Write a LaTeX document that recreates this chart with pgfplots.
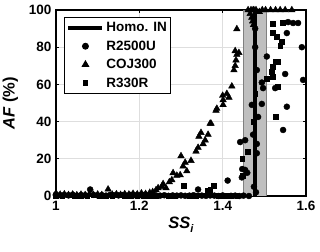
\documentclass[border=0pt]{standalone}
\usepackage{fontspec}
\setmainfont{Liberation Sans}
\usepackage{pgfplots}
\pgfplotsset{compat=1.18}
\pgfplotsset{
  lineleg/.style={legend image code/.code={\draw[##1, line width=4bp] (0bp,0bp) -- (34bp,0bp);}},
  markleg/.style={legend image code/.code={\draw[##1] plot coordinates {(17bp,0bp)};}},
}
\begin{document}
\begin{tikzpicture}
\begin{axis}[
  scale only axis, width=250bp, height=186bp,
  xmin=1, xmax=1.6, ymin=0, ymax=100,
  xtick={1,1.2,1.4,1.6}, xticklabels={1,1.2,1.4,1.6},
  ytick={0,20,40,60,80,100},
  /pgf/number format/assume math mode=true,
  ticklabel style={font=\bfseries\fontsize{13.5bp}{15bp}\selectfont},
  xticklabel style={yshift=-2bp},
  yticklabel style={xshift=-1bp},
  grid=major, major grid style={draw=black!13, line width=0.6bp},
  axis line style={line width=1.1bp},
  tick style={line width=0.8bp, black},
  major tick length=3bp,
  tick align=inside,
  clip mode=individual,
  xlabel={\bfseries\itshape SS\raisebox{-4bp}{\fontsize{11bp}{12bp}\selectfont\bfseries\itshape i}},
  ylabel={\bfseries\itshape AF \upshape (\%)},
  label style={font=\fontsize{16.5bp}{18bp}\selectfont},
  xlabel style={yshift=1bp},
  ylabel style={yshift=4bp},
  legend style={at={(rel axis cs:0.032,0.962)}, anchor=north west,
    font=\bfseries\fontsize{13.5bp}{15bp}\selectfont,
    draw=black, line width=0.9bp, inner ysep=3bp, inner xsep=2bp, row sep=3.5bp,
    cells={anchor=west, inner xsep=3bp}},
  legend cell align=left,
]
\addplot[forget plot, fill=black!25, draw=black!50, line width=0.7bp]
  coordinates {(1.45,0)(1.505,0)(1.505,100)(1.45,100)} -- cycle;
\addplot[black, line width=4bp, lineleg]
  coordinates {(1.478,0)(1.478,100)};
\addlegendentry{Homo. IN}
\addplot[only marks, mark=*, mark size=3bp, black, markleg]
  coordinates {
(1.000,0.8)(1.010,0.4)(1.020,0.6)(1.030,0.3)(1.040,0.7)(1.050,0.2)(1.060,0.5)(1.070,0.4)(1.082,3.5)(1.090,0.6)
(1.100,0.3)(1.110,0.5)(1.120,0.2)(1.130,0.6)(1.140,0.4)(1.150,0.3)(1.160,0.5)(1.170,0.2)(1.180,0.6)(1.190,0.4)
(1.200,0.3)(1.210,0.5)(1.220,0.2)(1.230,0.4)(1.240,0.3)(1.250,0.2)(1.260,0.4)(1.270,0.1)(1.280,0.3)(1.290,0.2)
(1.300,0.3)(1.310,0.1)(1.320,0.2)(1.330,0.4)(1.341,3.5)(1.350,0.2)(1.360,0.1)(1.370,0.3)(1.380,0.2)(1.390,0.0)
(1.400,0.3)(1.412,8.3)(1.420,0.1)(1.430,0.2)(1.440,0.0)(1.450,0.2)(1.463,0.0)
(1.442,29)(1.454,30)(1.447,14.5)(1.454,14)(1.459,12.5)(1.446,10)(1.470,49)(1.485,42.5)(1.473,33)(1.482,23)
(1.482,28)(1.494,49.5)(1.482,67.7)(1.494,61)(1.497,58)(1.506,75)(1.526,58)(1.550,65.6)(1.545,35.5)(1.554,48)
(1.590,80)(1.593,62.4)(1.554,87.6)(1.557,93.5)(1.569,93)(1.581,93)(1.478,80)(1.478,90)(1.475,5)(1.480,2)
  };
\addlegendentry{R2500U}
\addplot[only marks, mark=triangle*, mark size=3.8bp, black, markleg]
  coordinates {
(1.000,1.5)(1.010,0.8)(1.020,1.0)(1.030,0.6)(1.040,0.9)(1.050,0.5)(1.060,0.8)(1.070,0.6)(1.080,1.0)(1.090,0.7)
(1.100,0.9)(1.110,0.6)(1.125,3.6)(1.135,0.8)(1.145,1.0)(1.155,0.7)(1.165,1.1)(1.175,0.9)(1.185,1.3)(1.195,1.0)
(1.205,1.5)(1.215,1.2)(1.225,1.8)(1.232,2.2)
(1.240,3.2)(1.245,4.3)(1.254,5)(1.257,6.5)(1.264,4.3)(1.272,7.5)(1.278,8.6)(1.281,12.4)(1.290,11)(1.298,11.3)
(1.300,21.5)(1.305,16)(1.310,18)(1.314,13.4)(1.324,19)(1.336,24)(1.341,26)(1.343,32)(1.348,34)(1.353,28)
(1.358,30)(1.365,33)(1.370,39)(1.372,39)(1.384,46)(1.386,47)(1.401,49)(1.401,51.6)(1.400,54)(1.410,55)
(1.415,53)(1.422,59)(1.427,67.7)(1.430,70)(1.432,73)(1.434,76)(1.430,78)(1.439,77)(1.434,89.8)
(1.461,100)(1.466,98)(1.470,96)(1.472,94)(1.474,92)(1.468,100)(1.475,100)(1.480,100)(1.488,99)(1.495,100)
(1.503,100)(1.515,100)(1.527,100)(1.538,100)(1.550,100)(1.566,100)(1.473,100)
  };
\addlegendentry{COJ300}
\addplot[only marks, mark=square*, mark size=2.4bp, black, markleg]
  coordinates {
(1.000,0.3)(1.015,0.2)(1.030,0.4)(1.045,0.1)(1.060,0.3)(1.075,0.2)(1.090,0.4)(1.105,0.1)(1.120,0.3)(1.135,0.2)
(1.150,0.4)(1.165,0.1)(1.180,0.3)(1.195,0.2)(1.210,0.3)(1.225,0.1)(1.240,0.2)(1.255,0.4)(1.270,0.1)(1.285,0.3)
(1.307,5.4)(1.320,0.3)(1.335,0.2)(1.350,0.4)(1.365,2.7)(1.370,3.2)(1.379,5.4)(1.390,0.2)(1.405,0.1)(1.420,0.3)
(1.435,0.2)(1.449,11)(1.461,24)(1.447,20)
(1.521,92.5)(1.545,93)(1.521,87.6)(1.530,85.5)(1.542,83)(1.538,81)(1.526,72)(1.521,69.4)(1.518,66.7)(1.533,72)
(1.506,63)(1.521,64)(1.533,58.6)(1.528,42.5)(1.475,40)(1.478,55)
  };
\addlegendentry{R330R}
\coordinate (bl) at (rel axis cs:0,0);
\coordinate (tr) at (rel axis cs:1,1);
\end{axis}
\pgfresetboundingbox
\useasboundingbox ([xshift=-56bp,yshift=-56bp]bl) rectangle ([xshift=14bp,yshift=10bp]tr);
\end{tikzpicture}
\end{document}
